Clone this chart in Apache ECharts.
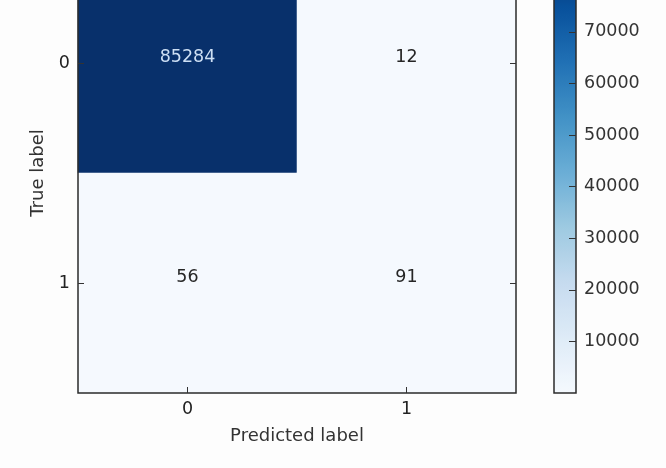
<!DOCTYPE html>
<html>
<head>
<meta charset="utf-8">
<script src="https://cdn.jsdelivr.net/npm/echarts@6/dist/echarts.min.js"></script>
<style>
html,body{margin:0;padding:0;width:666px;height:468px;overflow:hidden;background:#fdfdfd;}
#c{position:absolute;left:0;top:-60px;width:666px;height:528px;}
</style>
</head>
<body>
<div id="c"></div>
<script>
const predictedLabels = ['0', '1'];
const trueLabels = ['0', '1'];
const matrix = [
  [85284, 12],
  [56, 91]
];
const colorbarMin = 0;
const colorbarMax = 85284;
const colorbarStep = 10000;
const blues = ['#f5f9fe','#deebf7','#c6dbef','#9ecae1','#6baed6','#4292c6','#2171b5','#08519c','#08306b'];

const font = 'DejaVu Sans';
const threshold = colorbarMax / 2;
const cells = [];
matrix.forEach((row, i) => row.forEach((v, j) => {
  cells.push({
    value: [j, i, v],
    label: { color: v > threshold ? '#cddff4' : '#262626' }
  });
}));

const chart = echarts.init(document.getElementById('c'), null, {renderer: 'canvas'});
chart.setOption({
  backgroundColor: '#fdfdfd',
  animation: false,
  textStyle: { fontFamily: font },
  grid: [
    { left: 78, width: 438, top: 13, height: 440, show: true, borderColor: '#2b2b2b', borderWidth: 1.5, backgroundColor: 'transparent', z: 5 },
    { left: 554, width: 22, top: 13, height: 440, show: true, borderColor: '#2b2b2b', borderWidth: 1.5, backgroundColor: 'transparent', z: 5 }
  ],
  xAxis: [
    { type: 'category', gridIndex: 0, data: predictedLabels, position: 'bottom',
      name: 'Predicted label', nameLocation: 'middle', nameGap: 34,
      nameTextStyle: { fontSize: 18, color: '#333', fontFamily: font },
      axisLine: { show: false, onZero: false },
      axisTick: { show: true, inside: true, alignWithLabel: true, length: 6, lineStyle: { color: '#333' } },
      axisLabel: { fontSize: 17.5, color: '#222', margin: 7, fontFamily: font },
      splitLine: { show: false }, z: 6 },
    { type: 'category', gridIndex: 0, data: predictedLabels, position: 'top',
      axisLine: { show: false, onZero: false },
      axisTick: { show: true, inside: true, alignWithLabel: true, length: 6, lineStyle: { color: '#333' } },
      axisLabel: { show: false }, splitLine: { show: false }, z: 6 },
    { type: 'category', gridIndex: 1, show: false, data: ['bar'], axisLine: { onZero: false } }
  ],
  yAxis: [
    { type: 'category', gridIndex: 0, data: trueLabels, inverse: true, position: 'left',
      name: 'True label', nameLocation: 'middle', nameGap: 31, nameRotate: 90,
      nameTextStyle: { fontSize: 18, color: '#333', fontFamily: font },
      axisLine: { show: false, onZero: false },
      axisTick: { show: true, inside: true, alignWithLabel: true, length: 6, lineStyle: { color: '#333' } },
      axisLabel: { fontSize: 17.5, color: '#222', margin: 8, fontFamily: font },
      splitLine: { show: false }, z: 6 },
    { type: 'category', gridIndex: 0, data: trueLabels, inverse: true, position: 'right',
      axisLine: { show: false, onZero: false },
      axisTick: { show: true, inside: true, alignWithLabel: true, length: 6, lineStyle: { color: '#333' } },
      axisLabel: { show: false }, splitLine: { show: false }, z: 6 },
    { type: 'value', gridIndex: 1, position: 'right', min: colorbarMin, max: colorbarMax, interval: colorbarStep,
      axisLine: { show: false, onZero: false },
      axisTick: { show: true, inside: true, length: 7, lineStyle: { color: '#333' } },
      axisLabel: { fontSize: 17.5, color: '#333', margin: 8, fontFamily: font, showMinLabel: false, showMaxLabel: false,
        formatter: v => (v === 0 || v > colorbarMax - 1) ? '' : String(v) },
      splitLine: { show: false }, z: 6 }
  ],
  visualMap: {
    type: 'continuous', min: 12, max: colorbarMax, seriesIndex: 0,
    inRange: { color: blues },
    left: 554, top: 13, itemWidth: 22, itemHeight: 440, padding: 0,
    calculable: false, hoverLink: false, text: null, showLabel: false,
    orient: 'vertical', z: 2
  },
  series: [{
    type: 'heatmap', xAxisIndex: 0, yAxisIndex: 0,
    data: cells,
    label: { show: true, fontSize: 17.5, fontFamily: font, offset: [0, -6],
      formatter: p => String(p.value[2]) },
    itemStyle: { borderWidth: 0 },
    emphasis: { disabled: true }
  }]
});
</script>
</body>
</html>
